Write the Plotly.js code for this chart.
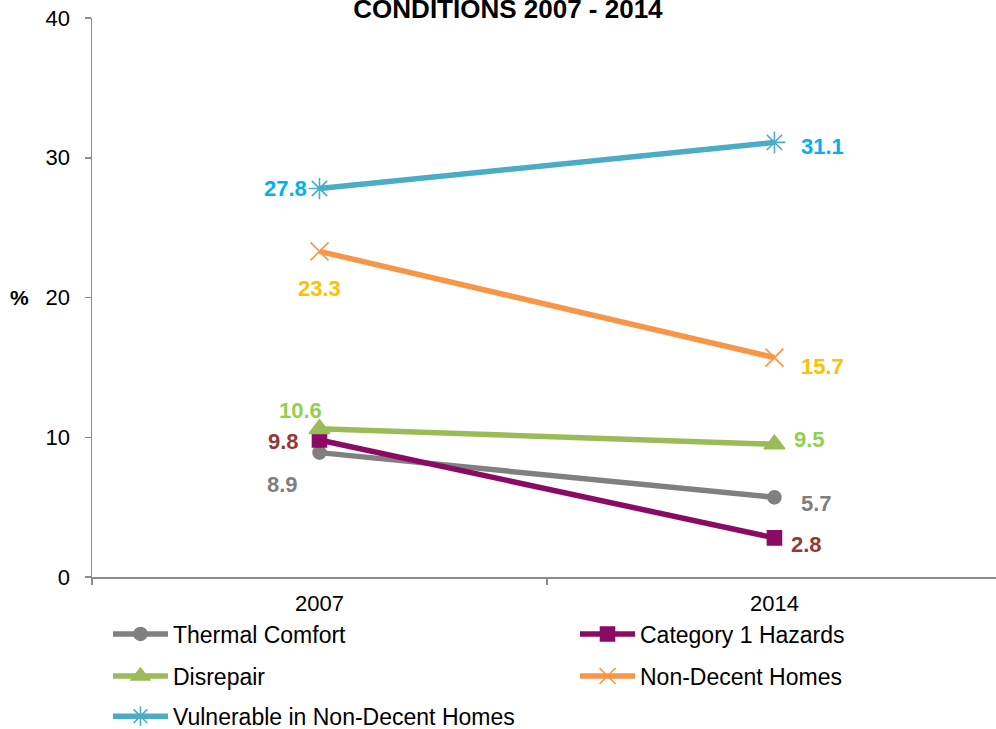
<!DOCTYPE html>
<html>
<head>
<meta charset="utf-8">
<script src="https://cdn.plot.ly/plotly-3.0.1.min.js"></script>
<style>html,body{margin:0;padding:0;background:#fff;}#chart{width:996px;height:729px;}</style>
</head>
<body>
<div id="chart"></div>
<script>
const years = ["2007", "2014"];
const seriesNames = ["Thermal Comfort", "Category 1 Hazards", "Disrepair", "Non-Decent Homes", "Vulnerable in Non-Decent Homes"];
const thermalComfort = [8.9, 5.7];
const category1Hazards = [9.8, 2.8];
const disrepair = [10.6, 9.5];
const nonDecentHomes = [23.3, 15.7];
const vulnerableNonDecent = [27.8, 31.1];
const yTicks = [0, 10, 20, 30, 40];

const series = [thermalComfort, category1Hazards, disrepair, nonDecentHomes, vulnerableNonDecent];
const lineColors = ["#808080", "#8B0A64", "#9BBB59", "#F79646", "#4BACC6"];
const labelColors = ["#7F7F7F", "#953735", "#92D050", "#FFC000", "#00B0F0"];
const symbols = ["circle", "square", "triangle-up", "x-thin-open", "asterisk-open"];
const sizes = [13, 14, 18, 18, 18];
const legendIds = ["legend", "legend2", "legend3", "legend4", "legend5"];
// legend positions in container fractions [x, y]
const legendPos = [[0.1084, 0.1303], [0.5773, 0.1303], [0.1084, 0.0727], [0.5773, 0.0727], [0.1084, 0.0175]];

const traces = series.map((vals, i) => ({
  type: "scatter",
  mode: "lines+markers",
  x: years,
  y: vals,
  name: seriesNames[i],
  legend: legendIds[i],
  line: {color: lineColors[i], width: 5.5},
  marker: {symbol: symbols[i], size: sizes[i], color: lineColors[i], line: {color: lineColors[i], width: 1.6}},
  hoverinfo: "x+y+name"
}));

// label placement per series per point: [xanchor, xshift, yshift]
const labelPlace = [
  [["center", -37, -32], ["left", 25, -6]],
  [["right", -18, -1], ["left", 15, -7]],
  [["center", -19, 18], ["left", 18, 5]],
  [["center", 0, -37], ["left", 25, -9]],
  [["right", -10, 0], ["left", 25, -4]]
];

const annotations = [];
series.forEach((vals, i) => {
  vals.forEach((v, j) => {
    const p = labelPlace[i][j];
    annotations.push({
      x: j, y: v, xref: "x", yref: "y",
      text: "<b>" + v.toFixed(1) + "</b>",
      showarrow: false,
      xanchor: p[0], yanchor: "middle",
      xshift: p[1], yshift: p[2],
      font: {family: "Liberation Sans, Arial, sans-serif", size: 22, color: labelColors[i]}
    });
  });
});
annotations.push({
  xref: "paper", yref: "paper", x: -0.08, y: 0.5,
  text: "<b>%</b>", showarrow: false, xanchor: "center", yanchor: "middle",
  font: {family: "Liberation Sans, Arial, sans-serif", size: 21, color: "#000"}
});

const layout = {
  width: 996, height: 729,
  margin: {l: 92, r: 0, t: 18, b: 152},
  paper_bgcolor: "#fff", plot_bgcolor: "#fff",
  font: {family: "Liberation Sans, Arial, sans-serif", color: "#000"},
  title: {
    text: "<b>CONDITIONS 2007 - 2014</b>",
    xref: "container", x: 0.51, xanchor: "center",
    yref: "paper", y: 1.036, yanchor: "middle",
    pad: {t: 0, b: 0, l: 0, r: 0},
    automargin: false,
    font: {family: "Liberation Sans, Arial, sans-serif", size: 26, color: "#000"}
  },
  xaxis: {
    type: "category",
    range: [-0.5, 1.487],
    showgrid: false, zeroline: false,
    showline: true, linecolor: "#8C8C8C", linewidth: 1.5,
    ticks: "outside", ticklen: 6, tickcolor: "#8C8C8C", tickwidth: 1.5,
    tickson: "boundaries",
    tickfont: {size: 22, color: "#000"},
    ticklabelstandoff: 6,
    fixedrange: true
  },
  yaxis: {
    range: [0, 40],
    tickvals: yTicks,
    showgrid: false, zeroline: false,
    showline: true, linecolor: "#8C8C8C", linewidth: 1.5,
    ticks: "outside", ticklen: 6, tickcolor: "#8C8C8C", tickwidth: 1.5,
    tickfont: {size: 22, color: "#000"},
    ticklabelstandoff: 10,
    fixedrange: true
  },
  annotations: annotations,
  showlegend: true
};

legendIds.forEach((id, i) => {
  layout[id] = {
    orientation: "h",
    xref: "container", yref: "container",
    x: legendPos[i][0], y: legendPos[i][1],
    xanchor: "left", yanchor: "middle",
    itemwidth: 55,
    bgcolor: "rgba(0,0,0,0)",
    borderwidth: 0,
    font: {family: "Liberation Sans, Arial, sans-serif", size: 23, color: "#000"}
  };
});

Plotly.newPlot("chart", traces, layout, {displayModeBar: false, staticPlot: true});
</script>
</body>
</html>
